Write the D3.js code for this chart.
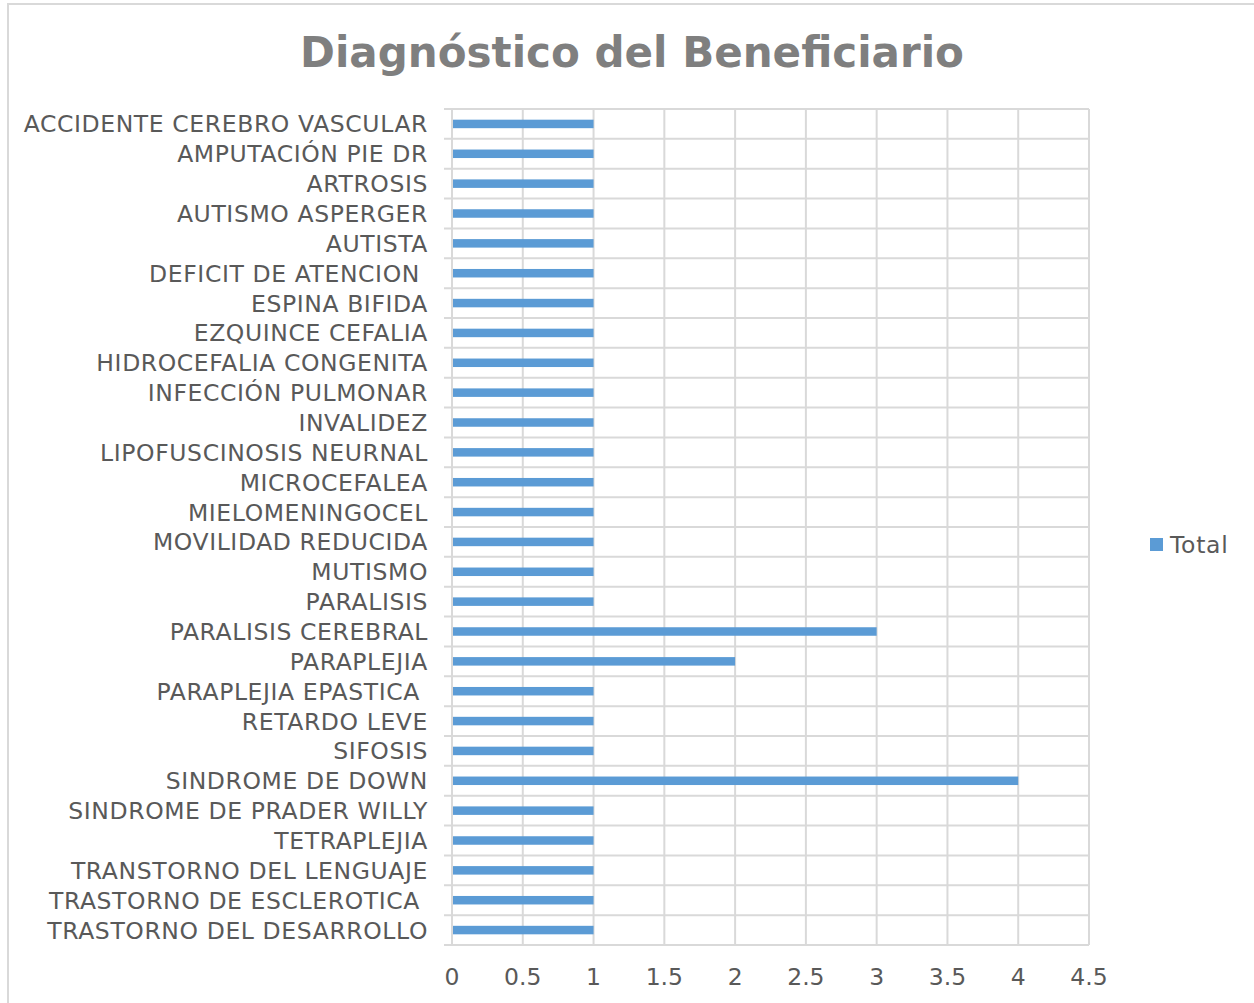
<!DOCTYPE html>
<html>
<head>
<meta charset="utf-8">
<script src="https://cdn.jsdelivr.net/npm/d3@7"></script>
<style>
  body { margin: 0; background: #fff; }
  text { font-family: "DejaVu Sans", Verdana, sans-serif; white-space: pre; }
</style>
</head>
<body>
<svg id="chart" width="1254" height="1003"></svg>
<script>
const categories = [
  "ACCIDENTE CEREBRO VASCULAR", "AMPUTACIÓN PIE DR", "ARTROSIS", "AUTISMO ASPERGER",
  "AUTISTA", "DEFICIT DE ATENCION ", "ESPINA BIFIDA", "EZQUINCE CEFALIA",
  "HIDROCEFALIA CONGENITA", "INFECCIÓN PULMONAR", "INVALIDEZ", "LIPOFUSCINOSIS NEURNAL",
  "MICROCEFALEA", "MIELOMENINGOCEL", "MOVILIDAD REDUCIDA", "MUTISMO",
  "PARALISIS", "PARALISIS CEREBRAL", "PARAPLEJIA", "PARAPLEJIA EPASTICA ",
  "RETARDO LEVE", "SIFOSIS", "SINDROME DE DOWN", "SINDROME DE PRADER WILLY",
  "TETRAPLEJIA", "TRANSTORNO DEL LENGUAJE", "TRASTORNO DE ESCLEROTICA ", "TRASTORNO DEL DESARROLLO"
];
const totals = [1, 1, 1, 1, 1, 1, 1, 1, 1, 1, 1, 1, 1, 1, 1, 1, 1, 3, 2, 1, 1, 1, 4, 1, 1, 1, 1, 1];
const xTicks = [0, 0.5, 1, 1.5, 2, 2.5, 3, 3.5, 4, 4.5];
const seriesName = "Total";

const svg = d3.select("#chart");
const margin = { top: 109, right: 165, bottom: 58, left: 452 };
const W = 1254, H = 1003;
const gridColor = "#d9d9d9";
const barColor = "#5b9bd5";
const textColor = "#595959";

// outer frame
svg.append("rect")
  .attr("x", 8).attr("y", 4).attr("width", W + 10).attr("height", H + 10)
  .attr("fill", "none").attr("stroke", "#d9d9d9").attr("stroke-width", 2);

const x = d3.scaleLinear().domain([0, 4.5]).range([margin.left, W - margin.right]);
const y = d3.scaleBand().domain(categories).range([margin.top, H - margin.bottom]);

// title
svg.append("text")
  .attr("x", 632).attr("y", 67)
  .attr("text-anchor", "middle")
  .attr("font-size", 42).attr("font-weight", "bold")
  .attr("fill", "#7f7f7f")
  .attr("textLength", 664).attr("lengthAdjust", "spacingAndGlyphs")
  .text("Diagnóstico del Beneficiario");

// vertical grid
svg.append("g")
  .selectAll("line")
  .data(xTicks)
  .join("line")
  .attr("x1", d => x(d)).attr("x2", d => x(d))
  .attr("y1", margin.top).attr("y2", H - margin.bottom)
  .attr("stroke", gridColor).attr("stroke-width", 2);

// horizontal band boundaries (with small ticks into the label area)
const bounds = categories.map(c => y(c)).concat([y.range()[1]]);
svg.append("g")
  .selectAll("line")
  .data(bounds)
  .join("line")
  .attr("x1", margin.left - 8).attr("x2", x(4.5))
  .attr("y1", d => d).attr("y2", d => d)
  .attr("stroke", gridColor).attr("stroke-width", 2);

// bars
const barH = 8.5;
svg.append("g")
  .selectAll("rect")
  .data(categories)
  .join("rect")
  .attr("x", x(0) + 1)
  .attr("y", d => y(d) + y.bandwidth() / 2 - barH / 2)
  .attr("width", (d, i) => x(totals[i]) - x(0) - 1)
  .attr("height", barH)
  .attr("fill", barColor);

// y labels
svg.append("g")
  .selectAll("text")
  .data(categories)
  .join("text")
  .attr("x", 428)
  .attr("y", d => y(d) + y.bandwidth() / 2)
  .attr("dy", "0.36em")
  .attr("text-anchor", "end")
  .attr("font-size", 23.5)
  .attr("letter-spacing", 0.6)
  .attr("fill", textColor)
  .text(d => d);

// x axis labels
svg.append("g")
  .selectAll("text")
  .data(xTicks)
  .join("text")
  .attr("x", d => x(d))
  .attr("y", 985)
  .attr("text-anchor", "middle")
  .attr("font-size", 23.5)
  .attr("fill", textColor)
  .text(d => d3.format("~g")(d));

// legend
const lg = svg.append("g").attr("transform", "translate(1150,538)");
lg.append("rect").attr("width", 13).attr("height", 13).attr("fill", barColor);
lg.append("text")
  .attr("x", 20).attr("y", 6.5).attr("dy", "0.36em")
  .attr("font-size", 23.5).attr("letter-spacing", 0.7).attr("fill", textColor)
  .text(seriesName);
</script>
</body>
</html>
